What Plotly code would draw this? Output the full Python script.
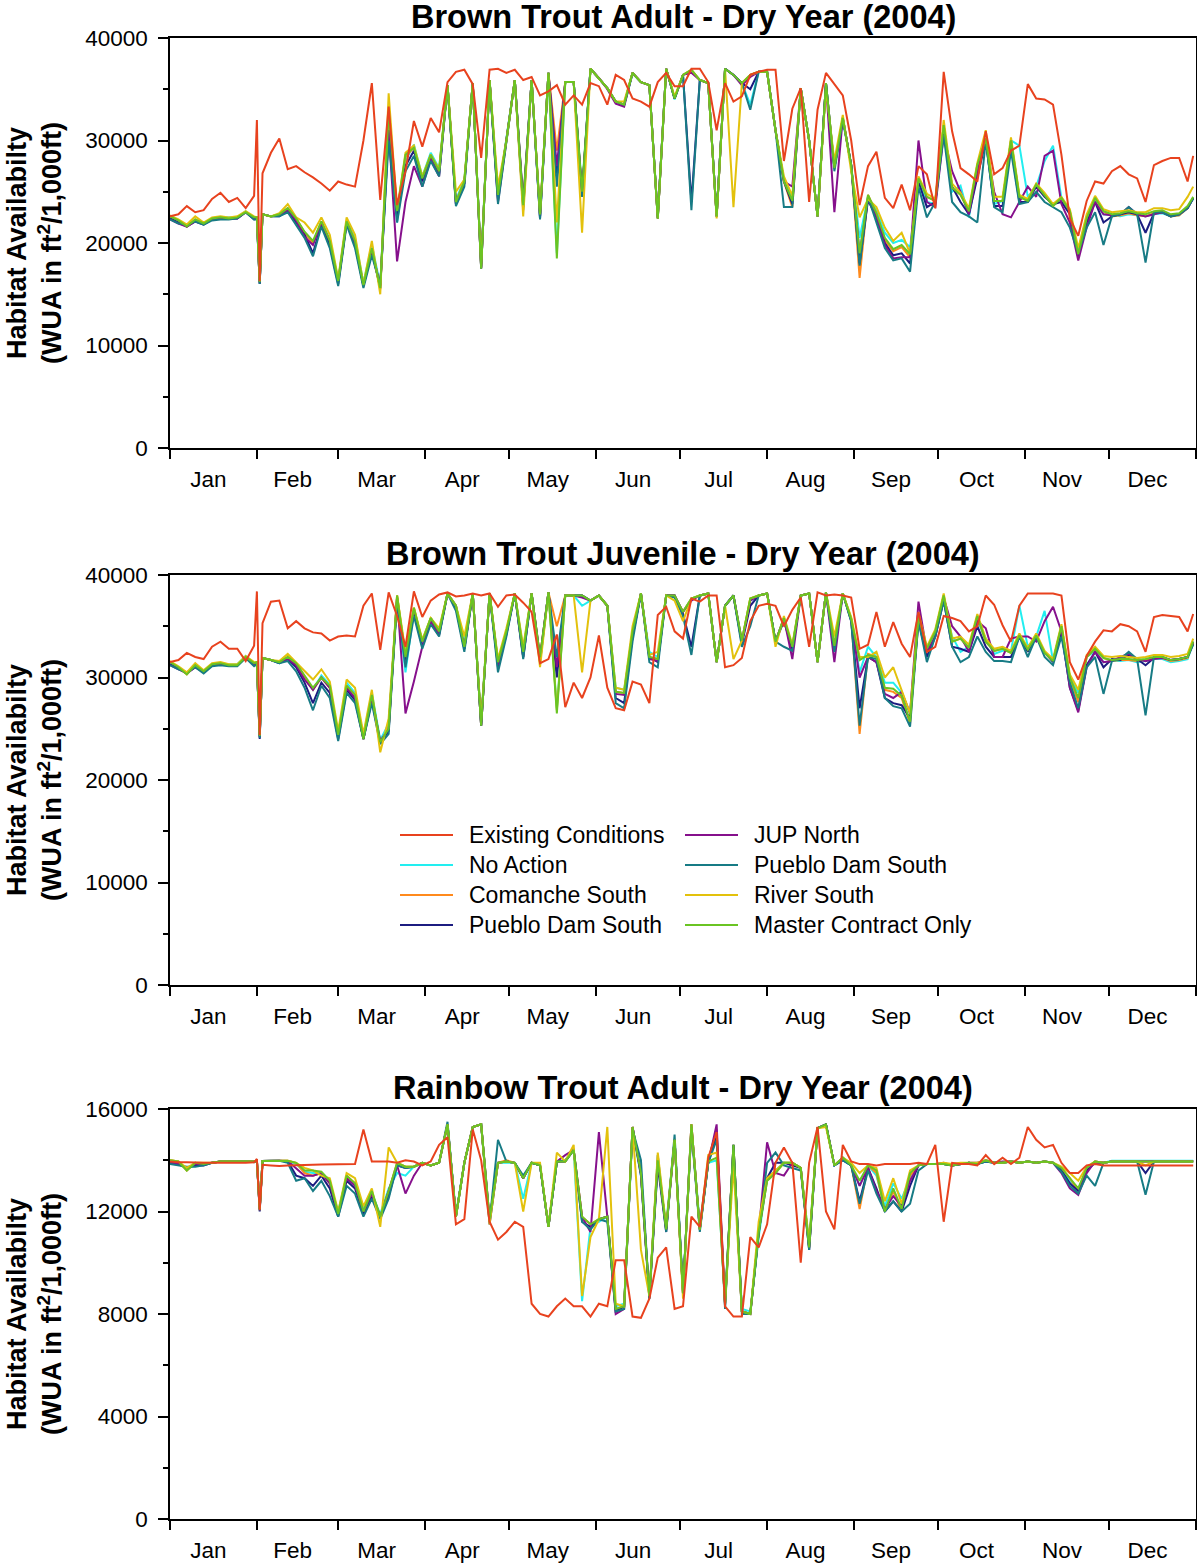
import pandas as pd
import plotly.graph_objects as go

# ---------------- day grid (day of year 2004) ----------------
days = [1, 4, 7, 10, 13, 16, 19, 22, 25, 28, 31,
        32, 33, 34, 37, 40, 43, 46, 49, 52, 55, 58,
        61, 64, 67, 70, 73, 76, 79, 82, 85, 88, 91,
        94, 97, 100, 103, 106, 109, 112, 115, 118, 121,
        124, 127, 130, 133, 136, 139, 142, 145, 148, 151,
        154, 157, 160, 163, 166, 169, 172, 175, 178, 181,
        184, 187, 190, 193, 196, 199, 202, 205, 208, 211,
        214, 217, 220, 223, 226, 229, 232, 235, 238, 241, 244,
        247, 250, 253, 256, 259, 262, 265, 268, 271, 274,
        277, 280, 283, 286, 289, 292, 295, 298, 301, 304,
        307, 310, 313, 316, 319, 322, 325, 328, 331, 334,
        337, 340, 343, 346, 349, 352, 355, 358, 361, 364, 366]

series_names = ["Existing Conditions", "No Action", "Comanche South", "Pueblo Dam South",
                "JUP North", "Pueblo Dam South", "River South", "Master Contract Only"]
panel_titles = ["Brown Trout Adult - Dry Year (2004)",
                "Brown Trout Juvenile - Dry Year (2004)",
                "Rainbow Trout Adult - Dry Year (2004)"]

# ---------------- values in thousands of ft2/1,000ft ----------------
# Panel 1 - Brown Trout Adult
p1_existing = [22.6, 22.8, 23.6, 23.0, 23.2, 24.3, 24.9, 24.0, 24.4, 23.4, 24.6,
               32.0, 16.3, 26.8, 28.8, 30.2, 27.2, 27.5, 26.9, 26.4, 25.8, 25.1,
               26.0, 25.7, 25.5, 30.0, 35.6, 24.2, 33.3, 23.7, 27.0, 31.9, 29.4,
               32.2, 30.8, 35.7, 36.7, 36.9, 35.5, 28.3, 36.9, 37.0, 36.6,
               36.9, 35.9, 36.2, 34.4, 34.8, 35.4, 33.5, 34.4, 33.5, 35.6,
               35.3, 33.5, 36.4, 35.9, 34.1, 33.8, 33.3, 35.7, 36.6, 35.3,
               35.3, 37.0, 37.0, 35.7, 31.0, 35.6, 33.8, 34.3, 36.4, 36.7,
               36.9, 36.9, 28.0, 33.1, 35.1, 24.0, 33.0, 36.6, 35.5, 34.4, 30.0,
               23.7, 27.5, 28.9, 24.4, 23.4, 25.7, 23.2, 27.5, 26.7, 23.4,
               36.7, 30.9, 27.3, 26.7, 26.0, 30.9, 26.7, 27.3, 29.0, 29.5,
               35.5, 34.1, 34.0, 33.5, 28.6, 22.4, 20.7, 24.1, 26.0, 25.8,
               27.0, 27.5, 26.7, 26.3, 24.0, 27.6, 28.0, 28.3, 28.3, 26.0, 28.5]
p1_no_action = [22.5, 22.1, 21.7, 22.2, 21.9, 22.4, 22.5, 22.5, 22.5, 23.1, 22.4,
                22.5, 16.2, 22.8, 22.6, 22.7, 23.3, 22.3, 21.0, 20.0, 22.0, 20.4,
                16.4, 22.2, 20.5, 16.1, 19.8, 15.9, 32.0, 22.0, 28.0, 29.6, 26.5,
                28.8, 27.3, 35.4, 24.2, 26.2, 35.5, 18.0, 35.9, 24.5, 30.0,
                35.9, 23.9, 35.9, 22.6, 36.6, 19.0, 35.7, 35.7, 25.3, 37.0,
                36.1, 35.1, 33.8, 33.4, 36.5, 35.7, 35.4, 22.6, 37.0, 34.0,
                36.4, 36.8, 35.9, 35.6, 22.6, 37.0, 36.4, 35.6, 33.5, 36.7,
                36.7, 31.0, 26.2, 24.3, 35.1, 30.0, 22.6, 35.6, 27.3, 32.0, 27.6,
                20.5, 24.5, 23.2, 21.0, 20.0, 20.3, 19.6, 26.0, 24.0, 23.8,
                31.0, 25.0, 25.6, 22.5, 27.0, 30.0, 23.8, 24.1, 30.0, 29.5,
                24.5, 25.5, 28.0, 29.5, 24.4, 23.0, 19.2, 22.6, 24.0, 22.8,
                22.7, 22.6, 22.8, 22.7, 22.6, 22.8, 22.9, 22.6, 22.7, 23.4, 24.3]
p1_comanche = [22.6, 22.2, 21.6, 22.3, 21.9, 22.4, 22.5, 22.4, 22.5, 23.0, 22.5,
               22.5, 16.2, 22.8, 22.6, 22.8, 23.4, 22.4, 21.0, 20.0, 22.1, 20.2,
               16.2, 22.1, 20.2, 15.8, 19.4, 15.5, 33.0, 23.0, 28.4, 29.3, 26.3,
               28.6, 27.0, 35.4, 24.0, 26.0, 35.6, 17.6, 35.9, 24.7, 30.0,
               35.9, 23.7, 35.9, 22.8, 36.6, 29.0, 35.7, 35.7, 25.0, 37.0,
               36.1, 35.1, 33.8, 33.5, 36.6, 35.7, 35.4, 22.4, 37.0, 34.1,
               36.4, 36.9, 35.9, 35.6, 22.6, 37.0, 36.4, 35.6, 36.4, 36.7,
               36.7, 31.0, 26.0, 23.5, 35.1, 30.0, 22.6, 35.6, 27.3, 32.2, 27.6,
               16.6, 24.7, 22.9, 20.3, 19.2, 19.6, 18.6, 26.3, 24.5, 24.1,
               31.5, 25.4, 24.7, 23.1, 27.6, 30.2, 24.1, 24.1, 30.0, 24.5,
               24.1, 25.7, 24.7, 23.6, 24.4, 23.1, 18.7, 22.4, 24.4, 23.1,
               22.6, 22.7, 22.9, 22.7, 22.6, 22.9, 23.0, 22.6, 22.7, 23.4, 24.4]
p1_pueblo_navy = [22.4, 22.0, 21.6, 22.1, 21.8, 22.3, 22.4, 22.4, 22.4, 23.0, 22.3,
                  22.4, 16.0, 22.8, 22.6, 22.6, 23.2, 22.0, 20.8, 19.0, 21.8, 19.8,
                  16.0, 22.0, 19.8, 15.8, 19.2, 15.6, 31.0, 22.5, 27.5, 29.0, 26.0,
                  28.5, 26.8, 35.4, 23.8, 25.8, 35.6, 17.5, 35.9, 24.3, 30.0,
                  35.9, 23.5, 35.9, 22.4, 36.6, 26.5, 35.7, 35.7, 24.8, 37.0,
                  36.1, 35.1, 33.8, 33.5, 36.6, 35.7, 35.4, 22.4, 37.0, 34.1,
                  36.4, 24.0, 35.9, 35.6, 22.6, 37.0, 36.4, 35.6, 35.0, 36.7,
                  36.7, 31.0, 26.0, 23.8, 35.1, 30.0, 22.6, 35.6, 27.3, 32.2, 27.6,
                  18.0, 24.2, 22.5, 20.0, 18.8, 19.0, 18.0, 26.0, 23.5, 24.0,
                  31.0, 25.5, 24.0, 22.8, 26.5, 30.0, 23.6, 23.6, 29.5, 24.0,
                  24.0, 25.5, 24.5, 23.8, 24.0, 22.8, 18.6, 22.0, 24.0, 22.0,
                  22.6, 22.8, 23.0, 22.8, 21.0, 22.9, 23.0, 22.6, 22.8, 23.4, 24.4]
p1_jup_north = [22.3, 21.9, 21.6, 22.1, 21.9, 22.3, 22.4, 22.4, 22.4, 23.0, 22.4,
                22.4, 16.1, 22.8, 22.6, 22.7, 23.2, 22.2, 20.6, 19.8, 22.0, 20.2,
                16.2, 22.0, 20.0, 15.9, 19.4, 15.8, 31.0, 18.2, 24.0, 27.5, 25.5,
                28.2, 26.5, 35.4, 23.8, 25.8, 35.6, 17.6, 35.9, 24.0, 30.0,
                35.9, 24.0, 35.9, 22.6, 36.6, 27.5, 35.7, 35.7, 24.7, 37.0,
                36.1, 35.0, 33.6, 33.3, 36.6, 35.7, 35.4, 22.5, 37.0, 34.1,
                36.4, 36.6, 35.9, 35.6, 22.6, 37.0, 36.4, 35.4, 36.2, 36.7,
                36.7, 31.0, 26.0, 25.5, 35.1, 30.0, 22.6, 35.6, 23.0, 32.2, 27.6,
                19.0, 24.3, 22.6, 19.8, 18.5, 18.6, 18.6, 30.0, 24.0, 23.5,
                30.5, 27.0, 25.0, 22.8, 27.0, 30.0, 25.0, 22.8, 22.5, 24.0,
                25.5, 24.5, 28.5, 29.0, 23.8, 22.0, 18.3, 21.5, 24.0, 22.8,
                22.7, 22.8, 23.5, 22.8, 22.6, 22.8, 23.0, 22.7, 22.8, 23.4, 24.4]
p1_pueblo_teal = [22.3, 21.9, 21.8, 22.1, 21.8, 22.2, 22.3, 22.3, 22.4, 23.0, 22.3,
                  22.3, 16.0, 22.8, 22.6, 22.6, 23.0, 21.8, 20.5, 18.7, 21.6, 19.5,
                  15.8, 21.8, 19.5, 15.6, 18.8, 15.9, 30.0, 22.0, 27.0, 28.5, 25.5,
                  28.0, 26.5, 35.4, 23.6, 25.5, 35.6, 17.6, 35.9, 23.8, 30.0,
                  35.9, 23.2, 35.9, 22.3, 36.6, 25.5, 35.7, 35.7, 24.5, 37.0,
                  36.1, 35.1, 33.8, 33.5, 36.6, 35.7, 35.4, 22.4, 37.0, 34.1,
                  36.4, 23.2, 35.9, 35.6, 22.6, 37.0, 36.4, 35.6, 33.0, 36.7,
                  36.7, 31.0, 23.5, 23.5, 35.1, 30.0, 22.6, 35.6, 27.0, 32.0, 27.6,
                  17.8, 24.5, 22.0, 19.5, 18.3, 18.5, 17.2, 25.5, 22.5, 24.0,
                  30.5, 24.0, 23.0, 22.6, 22.0, 30.0, 23.5, 23.0, 29.0, 23.8,
                  24.0, 25.0, 24.0, 23.5, 23.0, 21.5, 19.0, 21.5, 23.0, 19.8,
                  22.6, 22.8, 23.5, 22.8, 18.1, 23.0, 23.0, 22.6, 22.8, 23.4, 24.4]
p1_river_south = [22.7, 22.3, 21.8, 22.6, 22.0, 22.5, 22.6, 22.5, 22.6, 23.1, 22.6,
                  22.5, 16.3, 22.8, 22.6, 22.9, 23.8, 22.5, 22.0, 21.0, 22.5, 20.8,
                  16.5, 22.5, 20.8, 16.0, 20.2, 15.0, 34.6, 23.2, 28.8, 29.5, 26.5,
                  28.6, 27.2, 35.4, 25.0, 26.2, 35.6, 17.8, 35.9, 25.5, 30.0,
                  35.9, 22.6, 35.9, 22.8, 36.6, 22.0, 35.7, 35.7, 21.0, 37.0,
                  36.1, 35.1, 33.8, 33.8, 36.6, 35.7, 35.4, 22.4, 37.0, 34.3,
                  36.4, 36.9, 35.9, 35.6, 22.4, 37.0, 23.5, 35.6, 36.4, 36.7,
                  36.7, 31.0, 26.5, 24.6, 35.1, 30.0, 22.6, 35.0, 28.0, 32.5, 27.0,
                  22.5, 24.3, 23.5, 21.5, 20.2, 21.0, 19.0, 26.5, 24.8, 24.3,
                  32.0, 25.8, 24.9, 23.4, 27.8, 31.0, 24.5, 24.5, 30.3, 24.7,
                  24.3, 25.8, 24.9, 23.8, 24.5, 23.3, 19.5, 22.8, 24.6, 23.3,
                  23.0, 23.1, 23.2, 23.0, 23.0, 23.4, 23.4, 23.2, 23.3, 24.5, 25.5]
p1_master = [22.6, 22.2, 21.6, 22.3, 21.9, 22.4, 22.5, 22.4, 22.5, 23.0, 22.5,
             22.5, 16.2, 22.8, 22.6, 22.8, 23.4, 22.4, 21.1, 20.2, 22.1, 20.2,
             16.3, 22.1, 20.2, 15.9, 19.5, 15.6, 32.8, 23.1, 28.6, 29.3, 26.3,
             28.6, 27.0, 35.4, 24.0, 26.0, 35.6, 17.5, 35.9, 24.7, 30.0,
             35.9, 23.7, 35.9, 22.8, 36.6, 18.5, 35.7, 35.7, 25.0, 37.0,
             36.1, 35.1, 33.8, 33.5, 36.6, 35.7, 35.4, 22.4, 37.0, 34.1,
             36.4, 36.9, 35.9, 35.6, 22.6, 37.0, 36.4, 35.6, 36.4, 36.7,
             36.7, 31.0, 26.0, 24.1, 35.1, 30.0, 22.6, 35.6, 27.3, 32.2, 27.6,
             19.0, 24.7, 22.9, 20.5, 19.4, 19.8, 18.9, 26.3, 24.5, 24.1,
             31.5, 25.4, 24.7, 23.1, 27.6, 30.2, 24.1, 24.1, 30.0, 24.5,
             24.1, 25.7, 24.7, 23.6, 24.4, 23.1, 18.9, 22.4, 24.4, 23.1,
             22.8, 22.9, 23.1, 22.9, 22.8, 23.1, 23.2, 22.8, 22.9, 23.6, 24.5]

# Panel 2 - Brown Trout Juvenile
p2_existing = [31.5, 31.7, 32.4, 32.0, 31.8, 33.0, 33.5, 32.8, 32.8, 31.6, 33.1,
               38.4, 24.4, 35.3, 37.4, 37.5, 34.8, 35.5, 34.8, 34.4, 34.3, 33.6,
               34.0, 34.1, 34.0, 37.0, 38.2, 32.7, 38.3, 36.0, 33.0, 38.4, 35.9,
               37.5, 38.1, 38.3, 37.9, 38.0, 38.2, 38.0, 38.2, 36.9, 38.0,
               38.1, 37.3, 36.4, 31.4, 31.8, 34.2, 27.1, 29.5, 28.0, 30.0,
               34.1, 29.0, 27.0, 26.8, 29.6, 29.3, 27.5, 36.1, 36.9, 34.5,
               33.8, 37.7, 37.4, 38.0, 38.0, 31.0, 31.2, 31.9, 35.5, 37.0,
               37.2, 37.0, 35.0, 36.6, 37.8, 33.0, 38.3, 38.0, 38.1, 38.0, 37.8,
               32.8, 33.2, 36.4, 33.0, 35.4, 33.3, 32.0, 36.4, 32.5, 33.0,
               36.0, 35.8, 35.5, 34.5, 35.0, 38.0, 37.1, 35.1, 33.5, 37.0,
               38.2, 38.2, 38.2, 38.2, 38.0, 31.5, 29.8, 32.1, 33.5, 34.6,
               34.5, 35.2, 35.0, 34.5, 32.5, 35.9, 36.1, 36.0, 35.9, 34.5, 36.2]
p2_no_action = [31.4, 31.0, 30.4, 31.2, 30.6, 31.3, 31.4, 31.3, 31.3, 32.1, 31.3,
                31.5, 24.3, 31.9, 31.7, 31.4, 31.9, 31.3, 30.0, 28.8, 30.2, 29.3,
                24.5, 29.5, 28.5, 24.3, 28.5, 23.9, 25.5, 37.5, 30.5, 36.5, 33.6,
                35.8, 34.5, 38.2, 37.0, 33.5, 38.2, 25.8, 38.2, 31.5, 34.5,
                38.2, 32.8, 38.2, 31.5, 38.3, 27.0, 38.0, 38.0, 37.0, 37.5,
                38.0, 37.0, 29.0, 28.8, 34.2, 38.2, 32.5, 32.0, 38.0, 38.0,
                36.4, 37.7, 38.0, 38.2, 31.5, 37.0, 38.0, 33.6, 37.5, 38.0,
                38.2, 33.5, 35.8, 33.0, 38.0, 38.2, 31.5, 38.3, 33.1, 38.2, 35.7,
                30.5, 33.0, 32.0, 29.5, 29.5, 28.5, 26.5, 36.0, 32.5, 34.5,
                37.5, 34.0, 32.5, 33.0, 35.5, 33.8, 32.3, 32.6, 32.6, 37.0,
                33.0, 34.0, 36.5, 31.6, 35.0, 30.0, 28.5, 32.0, 32.6, 31.5,
                31.6, 31.6, 31.7, 31.5, 31.6, 31.8, 31.8, 31.5, 31.6, 31.8, 33.3]
p2_comanche = [31.5, 31.0, 30.3, 31.2, 30.6, 31.3, 31.4, 31.2, 31.2, 32.0, 31.4,
               31.5, 24.3, 31.9, 31.7, 31.5, 32.0, 31.4, 30.1, 28.8, 30.0, 29.0,
               24.2, 29.2, 28.3, 24.0, 28.2, 23.6, 25.0, 38.0, 32.0, 36.8, 33.5,
               35.8, 34.5, 38.2, 37.0, 33.0, 38.2, 25.3, 38.2, 31.5, 34.5,
               38.2, 32.5, 38.2, 32.0, 38.3, 35.0, 38.0, 38.0, 38.0, 37.5,
               38.0, 37.0, 28.6, 28.5, 34.5, 38.2, 32.0, 31.8, 38.0, 38.0,
               36.4, 37.7, 38.0, 38.2, 31.5, 37.0, 38.0, 33.6, 37.7, 38.0,
               38.2, 33.5, 35.8, 32.5, 38.0, 38.2, 31.5, 38.3, 33.1, 38.2, 35.7,
               24.5, 32.3, 32.0, 28.8, 28.6, 28.0, 25.5, 36.0, 32.8, 34.5,
               38.0, 33.5, 33.8, 32.9, 36.0, 33.5, 32.6, 32.8, 32.4, 34.1,
               32.7, 34.1, 32.4, 31.6, 35.0, 30.0, 27.6, 32.0, 32.8, 31.9,
               31.6, 31.7, 31.7, 31.6, 31.7, 31.9, 31.9, 31.6, 31.7, 31.9, 33.4]
p2_pueblo_navy = [31.3, 30.9, 30.4, 31.0, 30.5, 31.2, 31.3, 31.2, 31.2, 32.0, 31.2,
                  31.4, 24.0, 31.9, 31.7, 31.4, 31.8, 31.0, 29.5, 27.5, 29.5, 28.5,
                  24.0, 28.8, 27.8, 24.0, 27.8, 23.6, 24.8, 37.8, 31.5, 36.5, 33.0,
                  35.5, 34.2, 38.2, 36.8, 32.8, 38.2, 25.3, 38.2, 31.0, 34.2,
                  38.2, 32.0, 38.2, 31.8, 38.3, 30.0, 38.0, 38.0, 38.0, 37.5,
                  38.0, 37.0, 28.0, 27.5, 34.0, 38.2, 32.0, 31.5, 38.0, 38.0,
                  36.2, 33.0, 38.0, 38.2, 31.5, 37.0, 38.0, 33.3, 37.0, 38.0,
                  38.2, 33.5, 35.5, 32.8, 38.0, 38.2, 31.5, 38.3, 32.8, 38.2, 35.5,
                  27.0, 32.0, 31.5, 28.0, 27.5, 27.3, 26.0, 35.5, 32.0, 34.0,
                  37.5, 33.0, 32.8, 32.5, 35.0, 33.0, 32.0, 32.0, 32.0, 34.0,
                  32.5, 34.0, 32.5, 31.5, 34.5, 29.0, 26.8, 31.2, 32.5, 31.0,
                  31.8, 31.7, 32.2, 31.8, 31.2, 31.9, 32.0, 31.7, 31.8, 32.0, 33.5]
p2_jup_north = [31.2, 30.8, 30.4, 31.0, 30.6, 31.2, 31.3, 31.2, 31.2, 32.0, 31.3,
                31.4, 24.2, 31.9, 31.7, 31.5, 31.8, 31.2, 29.8, 28.8, 30.0, 29.0,
                24.3, 29.0, 28.0, 24.0, 28.0, 23.8, 25.0, 37.8, 26.5, 29.6, 33.0,
                35.5, 34.2, 38.2, 37.0, 32.8, 38.2, 25.3, 38.2, 31.2, 34.3,
                38.2, 32.0, 38.2, 32.0, 38.3, 31.0, 38.0, 38.0, 37.8, 37.5,
                38.0, 37.0, 28.4, 28.3, 34.0, 38.2, 31.8, 31.6, 38.0, 38.0,
                36.4, 37.5, 38.0, 38.2, 31.5, 37.0, 38.0, 33.4, 37.5, 38.0,
                38.2, 33.5, 35.8, 31.8, 38.0, 38.2, 31.5, 38.3, 31.5, 38.2, 35.7,
                30.0, 32.0, 31.5, 28.4, 28.0, 28.6, 26.5, 37.4, 32.5, 34.0,
                37.8, 35.0, 34.0, 32.5, 35.5, 34.8, 32.0, 32.0, 33.8, 34.0,
                34.0, 33.5, 35.5, 36.9, 34.5, 29.0, 26.6, 31.0, 32.5, 31.5,
                31.6, 32.0, 32.3, 31.8, 31.6, 31.8, 31.9, 31.7, 31.8, 32.0, 33.3]
p2_pueblo_teal = [31.2, 30.8, 30.5, 31.0, 30.4, 31.1, 31.2, 31.1, 31.1, 31.9, 31.1,
                  31.3, 24.1, 31.9, 31.7, 31.4, 31.6, 30.6, 29.0, 26.8, 29.2, 28.0,
                  23.8, 28.5, 27.5, 24.0, 27.5, 23.5, 24.5, 37.5, 31.0, 36.0, 32.8,
                  35.2, 34.0, 38.2, 36.5, 32.5, 38.2, 25.3, 38.2, 30.5, 34.0,
                  38.2, 31.8, 38.2, 31.5, 38.3, 32.0, 38.0, 38.0, 38.0, 37.5,
                  38.0, 37.0, 27.5, 27.0, 33.5, 38.2, 31.5, 31.0, 38.0, 37.8,
                  36.0, 32.2, 38.0, 38.2, 31.5, 37.0, 38.0, 33.0, 35.0, 38.0,
                  38.2, 33.5, 33.0, 32.6, 38.0, 38.2, 31.5, 38.3, 32.5, 38.2, 35.5,
                  25.3, 32.0, 31.8, 28.0, 27.2, 27.0, 25.2, 35.5, 31.5, 34.0,
                  37.5, 33.0, 31.5, 32.0, 34.0, 32.5, 31.6, 31.6, 31.5, 34.0,
                  32.0, 34.0, 32.0, 31.2, 34.0, 29.5, 27.0, 31.0, 32.0, 28.4,
                  31.6, 31.8, 32.5, 31.8, 26.3, 32.0, 32.0, 31.7, 31.8, 32.0, 33.2]
p2_river_south = [31.6, 31.1, 30.5, 31.4, 30.7, 31.4, 31.5, 31.3, 31.3, 32.1, 31.5,
                  31.5, 24.4, 31.9, 31.7, 31.6, 32.3, 31.5, 30.6, 29.8, 30.8, 29.6,
                  24.8, 29.8, 29.0, 24.5, 28.8, 22.7, 26.0, 38.0, 32.5, 36.8, 33.7,
                  35.8, 34.8, 38.2, 37.0, 34.0, 38.2, 25.8, 38.2, 31.8, 34.8,
                  38.2, 33.0, 38.2, 31.0, 38.3, 26.8, 38.0, 38.0, 30.5, 37.5,
                  38.0, 37.0, 29.0, 28.8, 35.0, 38.2, 32.2, 32.5, 38.0, 37.5,
                  35.5, 37.7, 38.0, 38.2, 31.5, 37.0, 31.8, 33.6, 37.7, 38.0,
                  38.2, 33.0, 36.0, 33.2, 38.0, 38.2, 31.5, 38.3, 34.0, 38.2, 35.9,
                  32.0, 32.0, 32.5, 30.0, 31.0, 28.8, 26.5, 36.3, 33.0, 34.7,
                  38.2, 33.8, 34.0, 33.2, 36.2, 33.8, 32.8, 33.0, 32.6, 34.3,
                  32.9, 34.3, 32.6, 31.8, 35.2, 30.3, 28.8, 32.2, 33.0, 32.1,
                  32.0, 32.1, 32.0, 31.9, 32.0, 32.2, 32.2, 32.0, 32.1, 32.3, 33.8]
p2_master = [31.5, 31.0, 30.3, 31.2, 30.6, 31.3, 31.4, 31.2, 31.2, 32.0, 31.4,
             31.5, 24.3, 31.9, 31.7, 31.5, 32.0, 31.4, 30.2, 29.0, 30.0, 29.2,
             24.4, 29.2, 28.3, 24.0, 28.3, 23.7, 25.0, 38.0, 32.0, 36.8, 33.5,
             35.8, 34.5, 38.2, 37.0, 33.0, 38.2, 25.3, 38.2, 31.5, 34.5,
             38.2, 32.5, 38.2, 32.0, 38.3, 26.5, 38.0, 38.0, 38.0, 37.5,
             38.0, 37.0, 28.6, 28.5, 34.5, 38.2, 32.0, 31.8, 38.0, 38.0,
             36.4, 37.7, 38.0, 38.2, 31.5, 37.0, 38.0, 33.6, 37.7, 38.0,
             38.2, 33.5, 35.8, 33.0, 38.0, 38.2, 31.5, 38.3, 33.1, 38.2, 35.7,
             31.7, 32.2, 32.0, 29.0, 28.9, 28.2, 25.7, 36.0, 32.8, 34.5,
             38.0, 33.5, 33.8, 32.9, 36.0, 33.5, 32.6, 32.8, 32.4, 34.1,
             32.7, 34.1, 32.4, 31.6, 35.0, 30.0, 28.0, 32.0, 32.8, 31.9,
             31.7, 31.8, 31.8, 31.7, 31.8, 32.0, 32.0, 31.7, 31.8, 32.0, 33.5]

# Panel 3 - Rainbow Trout Adult
p3_existing = [13.95, 13.92, 13.92, 13.9, 13.9, 13.9, 13.9, 13.88, 13.9, 13.9, 13.92,
               14.05, 12.05, 13.82, 13.8, 13.78, 13.8, 13.8, 13.82, 13.82, 13.83, 13.83,
               13.83, 13.85, 13.85, 15.2, 13.95, 13.95, 13.95, 13.9, 14.0, 13.95, 13.8,
               13.95, 14.6, 14.9, 11.5, 11.7, 15.2, 14.0, 11.6, 10.9, 11.2,
               11.6, 11.4, 8.4, 8.0, 7.9, 8.3, 8.6, 8.3, 8.3, 7.9,
               8.4, 8.3, 10.1, 10.1, 7.9, 7.85, 8.6, 10.2, 10.6, 8.2,
               8.3, 11.8, 11.4, 14.1, 15.1, 8.3, 7.9, 7.9, 11.0, 10.6,
               11.5, 13.9, 14.5, 13.9, 10.0, 13.9, 15.3, 12.0, 11.3, 14.6, 13.95,
               13.85, 13.85, 13.8, 13.85, 13.85, 13.85, 13.85, 13.9, 13.85, 14.6,
               11.6, 13.9, 13.85, 13.85, 13.8, 14.2, 13.85, 14.1, 13.85, 14.1,
               15.3, 14.8, 14.5, 14.6, 13.9, 13.5, 13.5, 13.8, 13.85, 13.8,
               13.8, 13.8, 13.8, 13.78, 13.8, 13.8, 13.8, 13.78, 13.8, 13.8, 13.8]
p3_no_action = [13.95, 13.9, 13.65, 13.85, 13.85, 13.9, 13.95, 13.95, 13.95, 13.97, 13.95,
                13.98, 12.1, 13.97, 13.98, 13.97, 13.97, 13.85, 13.55, 13.5, 13.5, 13.1,
                12.0, 13.4, 13.0, 12.1, 12.7, 11.9, 12.9, 13.5, 13.4, 13.75, 13.9,
                13.8, 13.9, 15.4, 11.9, 13.9, 15.3, 15.4, 11.6, 13.9, 13.9,
                13.9, 12.5, 13.9, 13.8, 11.4, 13.95, 13.95, 14.4, 8.5, 11.4,
                11.6, 11.8, 8.3, 8.4, 15.2, 13.4, 8.8, 13.8, 11.5, 14.8,
                8.9, 15.3, 11.5, 13.9, 14.0, 8.5, 14.5, 8.2, 8.1, 11.0,
                13.3, 13.6, 13.9, 13.9, 13.7, 10.8, 15.25, 15.4, 13.8, 14.0, 13.8,
                13.0, 13.8, 13.4, 12.2, 13.1, 12.5, 13.3, 13.8, 13.85, 13.85,
                13.85, 13.8, 13.85, 13.9, 13.85, 13.95, 13.9, 13.9, 13.95, 13.9,
                13.95, 13.9, 13.95, 13.9, 13.6, 13.2, 12.9, 13.6, 13.95, 13.9,
                13.98, 13.98, 13.98, 13.97, 13.98, 13.98, 13.98, 13.98, 13.98, 13.98, 13.98]
p3_comanche = [14.0, 13.95, 13.6, 13.9, 13.85, 13.9, 13.95, 13.95, 13.95, 13.97, 13.95,
               13.98, 12.1, 13.97, 13.98, 13.98, 13.98, 13.9, 13.5, 13.4, 13.5, 13.1,
               11.9, 13.4, 13.1, 12.0, 12.7, 11.8, 12.8, 13.9, 13.75, 13.75, 13.9,
               13.8, 13.9, 15.4, 11.8, 13.9, 15.3, 15.4, 11.7, 13.9, 14.0,
               13.9, 13.3, 13.9, 13.8, 11.4, 13.95, 13.95, 14.4, 11.8, 11.5,
               11.7, 11.8, 8.2, 8.3, 15.3, 13.5, 8.7, 14.0, 11.3, 14.8,
               8.8, 15.4, 11.3, 13.95, 15.2, 8.4, 14.6, 8.1, 8.0, 11.2,
               13.2, 13.5, 13.9, 13.9, 13.7, 10.6, 15.25, 15.4, 13.8, 14.1, 13.8,
               12.1, 13.8, 13.5, 12.0, 12.8, 12.0, 13.4, 13.8, 13.85, 13.85,
               13.85, 13.8, 13.85, 13.9, 13.85, 14.0, 13.9, 13.9, 13.95, 13.9,
               13.95, 13.9, 13.95, 13.9, 13.7, 13.3, 12.8, 13.7, 13.95, 13.9,
               13.95, 13.95, 13.95, 13.95, 13.95, 13.95, 13.95, 13.95, 13.95, 13.95, 13.95]
p3_pueblo_navy = [13.9, 13.85, 13.7, 13.8, 13.8, 13.9, 13.95, 13.95, 13.95, 13.97, 13.95,
                  13.98, 12.0, 13.97, 13.98, 13.98, 13.95, 13.4, 13.3, 13.0, 13.4, 12.9,
                  11.8, 13.2, 12.9, 11.9, 12.6, 11.8, 12.6, 13.8, 13.7, 13.75, 13.9,
                  13.8, 13.9, 15.4, 11.8, 13.9, 15.3, 15.4, 11.5, 13.9, 13.95,
                  13.9, 13.3, 13.9, 13.8, 11.4, 13.95, 13.95, 14.4, 11.6, 11.4,
                  11.7, 11.8, 8.1, 8.3, 15.3, 13.4, 8.6, 13.8, 11.2, 14.8,
                  8.8, 15.3, 11.3, 13.9, 15.0, 8.3, 14.6, 8.1, 8.0, 11.2,
                  13.3, 13.9, 13.9, 13.8, 13.7, 10.5, 15.25, 15.4, 13.8, 14.0, 13.8,
                  12.4, 13.7, 12.9, 12.0, 12.4, 12.0, 13.0, 13.8, 13.85, 13.85,
                  13.85, 13.8, 13.85, 13.9, 13.85, 13.95, 13.9, 13.9, 13.95, 13.9,
                  13.95, 13.9, 13.95, 13.9, 13.6, 13.1, 12.8, 13.6, 13.9, 13.9,
                  13.95, 13.95, 13.95, 13.95, 13.5, 13.95, 13.95, 13.95, 13.95, 13.95, 13.95]
p3_jup_north = [13.9, 13.85, 13.7, 13.85, 13.85, 13.9, 13.95, 13.95, 13.95, 13.97, 13.95,
                13.98, 12.1, 13.97, 13.98, 13.98, 13.97, 13.7, 13.4, 13.4, 13.5, 13.1,
                11.9, 13.3, 13.0, 12.0, 12.7, 11.8, 12.8, 13.8, 12.7, 13.4, 13.9,
                13.8, 13.9, 15.4, 11.8, 13.9, 15.3, 15.4, 11.7, 13.9, 13.95,
                13.9, 13.3, 13.9, 13.8, 11.4, 13.95, 14.2, 14.4, 11.8, 11.2,
                15.1, 11.8, 8.0, 8.2, 15.3, 13.5, 8.7, 14.0, 11.3, 14.8,
                8.8, 15.4, 11.3, 13.9, 15.4, 8.4, 14.5, 8.1, 8.0, 11.2,
                14.7, 13.5, 13.4, 13.9, 13.7, 10.6, 15.25, 15.4, 13.8, 14.1, 13.8,
                13.0, 13.7, 12.8, 12.1, 12.6, 12.2, 13.2, 13.8, 13.85, 13.85,
                13.9, 13.8, 13.85, 13.9, 13.9, 14.0, 13.9, 13.95, 13.95, 13.9,
                13.95, 13.9, 13.95, 13.9, 13.5, 12.9, 12.65, 13.5, 13.95, 13.9,
                13.95, 13.97, 13.97, 13.95, 13.95, 13.97, 13.97, 13.95, 13.97, 13.97, 13.97]
p3_pueblo_teal = [13.85, 13.8, 13.75, 13.75, 13.8, 13.9, 13.95, 13.95, 13.95, 13.97, 13.92,
                  13.98, 12.05, 13.97, 13.98, 13.98, 13.9, 13.2, 13.3, 12.8, 13.2, 12.6,
                  11.8, 13.0, 12.7, 11.8, 12.5, 11.7, 12.5, 13.8, 13.7, 13.75, 13.9,
                  13.8, 13.9, 15.5, 11.8, 13.9, 15.3, 15.4, 11.6, 14.8, 13.95,
                  13.9, 13.4, 13.9, 13.8, 11.4, 13.95, 14.0, 14.4, 11.6, 11.3,
                  11.7, 11.6, 8.1, 8.2, 15.2, 14.0, 8.6, 14.2, 11.2, 15.0,
                  8.9, 15.2, 11.2, 13.9, 14.8, 8.2, 14.6, 8.0, 8.0, 11.1,
                  13.9, 14.3, 13.8, 13.7, 13.6, 10.5, 15.25, 15.4, 13.8, 14.0, 13.8,
                  12.3, 13.6, 12.7, 12.0, 12.4, 12.0, 12.3, 13.6, 13.85, 13.85,
                  13.85, 13.8, 13.85, 13.9, 13.85, 13.95, 13.9, 13.9, 13.95, 13.9,
                  13.95, 13.9, 13.95, 13.9, 13.55, 13.0, 12.7, 13.4, 13.0, 13.9,
                  13.95, 13.95, 13.95, 13.95, 12.65, 13.95, 13.95, 13.95, 13.95, 13.95, 13.95]
p3_river_south = [14.0, 13.95, 13.7, 13.9, 13.9, 13.9, 13.95, 13.95, 13.95, 13.97, 13.95,
                  13.98, 12.1, 13.97, 13.98, 13.98, 13.98, 13.9, 13.7, 13.6, 13.4, 13.3,
                  12.0, 13.5, 13.3, 12.2, 12.9, 11.4, 14.5, 13.9, 13.75, 13.75, 13.9,
                  13.8, 13.9, 15.4, 11.8, 13.9, 15.3, 15.4, 11.5, 13.9, 13.95,
                  13.9, 12.0, 13.9, 13.9, 11.4, 14.3, 13.95, 14.6, 8.7, 11.0,
                  11.7, 15.3, 8.4, 8.3, 15.3, 10.5, 8.7, 14.3, 11.4, 14.8,
                  8.6, 15.4, 11.3, 14.2, 14.3, 8.4, 13.8, 8.1, 8.0, 11.6,
                  13.3, 13.6, 13.9, 13.9, 13.7, 10.8, 15.25, 15.3, 13.8, 14.1, 13.9,
                  13.5, 13.8, 13.7, 12.4, 13.3, 12.3, 13.6, 13.8, 13.85, 13.85,
                  13.9, 13.85, 13.9, 13.9, 13.9, 14.0, 13.9, 13.9, 13.95, 13.9,
                  13.95, 13.9, 13.95, 13.9, 13.75, 13.5, 13.2, 13.75, 13.95, 13.9,
                  13.95, 13.95, 13.95, 13.95, 13.8, 13.95, 13.95, 13.95, 13.95, 13.95, 13.95]
p3_master = [14.0, 13.95, 13.6, 13.9, 13.85, 13.9, 13.95, 13.95, 13.95, 13.97, 13.95,
             13.98, 12.1, 13.97, 13.98, 13.98, 13.98, 13.9, 13.6, 13.6, 13.55, 13.2,
             11.9, 13.4, 13.1, 12.0, 12.8, 11.8, 12.8, 13.9, 13.75, 13.75, 13.9,
             13.8, 13.9, 15.4, 11.8, 13.9, 15.3, 15.4, 11.7, 13.9, 13.95,
             13.9, 13.3, 13.9, 13.8, 11.4, 13.95, 13.95, 14.4, 11.8, 11.5,
             11.7, 11.8, 8.2, 8.3, 15.3, 13.5, 8.7, 14.0, 11.3, 14.8,
             8.8, 15.4, 11.3, 13.95, 14.1, 8.4, 14.6, 8.1, 8.0, 11.2,
             13.2, 13.5, 13.9, 13.9, 13.7, 10.6, 15.25, 15.4, 13.8, 14.1, 13.8,
             13.2, 13.8, 13.6, 12.0, 12.9, 12.1, 13.5, 13.8, 13.85, 13.85,
             13.85, 13.8, 13.85, 13.9, 13.85, 14.0, 13.9, 13.9, 13.95, 13.9,
             13.95, 13.9, 13.95, 13.9, 13.7, 13.3, 12.9, 13.7, 13.95, 13.9,
             13.95, 13.95, 13.95, 13.95, 13.95, 13.95, 13.95, 13.95, 13.95, 13.95, 13.95]

panels = [
    [p1_existing, p1_no_action, p1_comanche, p1_pueblo_navy, p1_jup_north, p1_pueblo_teal, p1_river_south, p1_master],
    [p2_existing, p2_no_action, p2_comanche, p2_pueblo_navy, p2_jup_north, p2_pueblo_teal, p2_river_south, p2_master],
    [p3_existing, p3_no_action, p3_comanche, p3_pueblo_navy, p3_jup_north, p3_pueblo_teal, p3_river_south, p3_master],
]
for pan in panels:
    for s in pan:
        assert len(s) == len(days), (len(s), len(days))

# ---------------- styling ----------------
colors = ["#e8421e", "#22eef0", "#ff8a1c", "#1c1c80", "#86108c", "#177b85", "#e3c10c", "#6ac423"]
FONT = "Liberation Sans, Arial, Helvetica, sans-serif"
dates = pd.Timestamp("2004-01-01") + pd.to_timedelta([d - 1 for d in days], unit="D")

W, H = 1197, 1564
ML, MR, MT, MB = 170, 1, 38, 45
PW = W - ML - MR
PH = H - MT - MB

def py(pix):      # pixel y -> paper y
    return (H - MB - pix) / PH

def px(pix):      # pixel x -> paper x
    return (pix - ML) / PW

tops = [38, 575, 1109]
bots = [448, 985, 1519]
yranges = [[0, 40000], [0, 40000], [0, 16000]]
ydticks = [10000, 10000, 4000]

fig = go.Figure()

draw_order = [1, 2, 3, 4, 5, 6, 7, 0]
for p in range(3):
    xa = "x" if p == 0 else f"x{p + 1}"
    ya = "y" if p == 0 else f"y{p + 1}"
    for i in draw_order:
        fig.add_trace(go.Scatter(
            x=dates, y=[v * 1000 for v in panels[p][i]],
            mode="lines", name=series_names[i],
            line=dict(color=colors[i], width=2),
            xaxis=xa, yaxis=ya, showlegend=False,
        ))

layout = dict(
    template="none",
    width=W, height=H,
    margin=dict(l=ML, r=MR, t=MT, b=MB, pad=0),
    paper_bgcolor="white", plot_bgcolor="white",
    font=dict(family=FONT, color="black", size=22),
    showlegend=False,
)
for p in range(3):
    sfx = "" if p == 0 else str(p + 1)
    layout["xaxis" + sfx] = dict(
        type="date", range=["2004-01-01", "2005-01-01"],
        tick0="2004-01-01", dtick="M1", tickformat="%b", ticklabelmode="period",
        ticks="outside", ticklen=9, tickwidth=1.5, tickcolor="black",
        showline=True, linecolor="black", linewidth=1.5, mirror=True,
        showgrid=False, zeroline=False, anchor="y" + sfx, automargin=False,
        tickfont=dict(size=22.5, family=FONT, color="black"),
        ticklabelstandoff=1, ticklabelshift=-5,
        domain=[0, 1],
    )
    layout["yaxis" + sfx] = dict(
        range=yranges[p], dtick=ydticks[p], tick0=0, tickformat="d",
        ticks="outside", ticklen=10, tickwidth=1.5, tickcolor="black",
        minor=dict(dtick=ydticks[p] / 2, ticks="outside", ticklen=5, tickwidth=1.5, tickcolor="black",
                   showgrid=False),
        showline=True, linecolor="black", linewidth=1.5, mirror=True,
        showgrid=False, zeroline=False, anchor="x" + sfx, automargin=False,
        tickfont=dict(size=22.5, family=FONT, color="black"), ticklabelstandoff=6,
        domain=[py(bots[p]), py(tops[p])],
    )
fig.update_layout(**layout)

annotations = []
shapes = []
for p in range(3):
    mid = (tops[p] + bots[p]) / 2
    annotations.append(dict(
        text="<b>" + panel_titles[p] + "</b>", xref="paper", yref="paper",
        x=px(683), y=py(tops[p] - 21), xanchor="center", yanchor="middle",
        showarrow=False, font=dict(size=32.5, family=FONT, color="black")))
    annotations.append(dict(
        text="<b>Habitat Availabilty</b>", xref="paper", yref="paper",
        x=px(17), y=py(mid), xanchor="center", yanchor="middle", textangle=-90,
        showarrow=False, font=dict(size=27, family=FONT, color="black")))
    annotations.append(dict(
        text="<b>(WUA in ft<sup>2</sup>/1,000ft)</b>", xref="paper", yref="paper",
        x=px(50), y=py(mid), xanchor="center", yanchor="middle", textangle=-90,
        showarrow=False, font=dict(size=27, family=FONT, color="black")))

# legend inside panel 2 (two columns)
legend_layout = [(0, 0, 0), (1, 0, 1), (2, 0, 2), (3, 0, 3),
                 (4, 1, 0), (5, 1, 1), (6, 1, 2), (7, 1, 3)]
col_line = [(400, 453, 467), (685, 738, 752)]
row_y = [835, 865, 895, 925]
for idx, col, row in legend_layout:
    x0, x1, xt = col_line[col]
    yy = py(row_y[row])
    shapes.append(dict(type="line", xref="paper", yref="paper",
                       x0=px(x0), x1=px(x1), y0=yy, y1=yy,
                       line=dict(color=colors[idx], width=2)))
    annotations.append(dict(
        text=series_names[idx], xref="paper", yref="paper",
        x=px(xt), y=yy, xanchor="left", yanchor="middle",
        showarrow=False, font=dict(size=23, family=FONT, color="black")))

fig.update_layout(annotations=annotations, shapes=shapes)

fig.write_html("out.html", config={"displayModeBar": False},
               post_script="document.body.style.margin='0';")
